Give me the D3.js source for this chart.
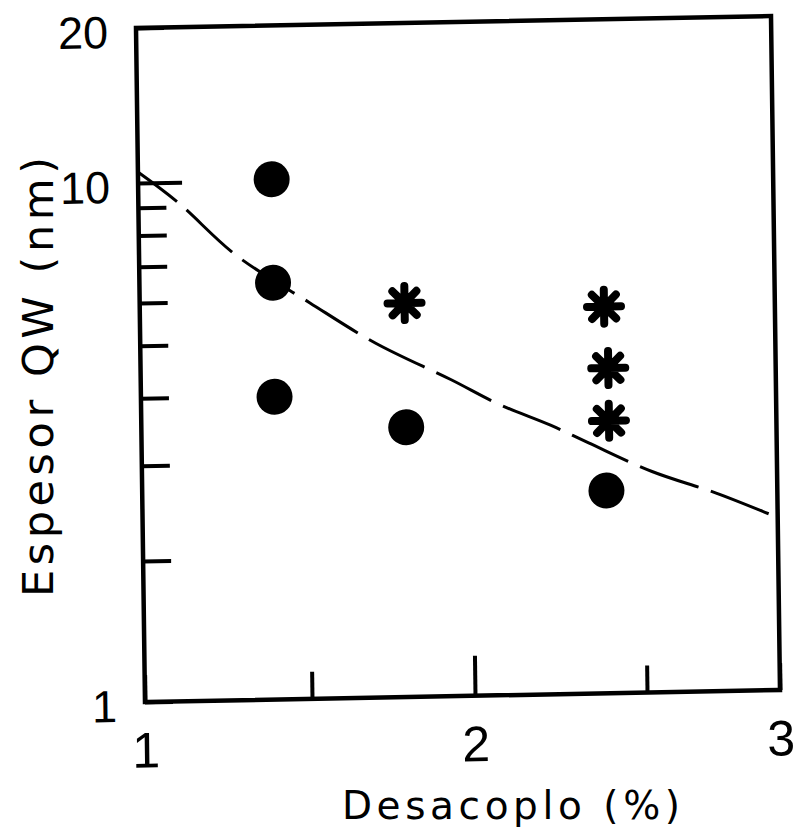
<!DOCTYPE html>
<html>
<head>
<meta charset="utf-8">
<script src="https://cdn.jsdelivr.net/npm/d3@7"></script>
<style>
  html, body { margin: 0; padding: 0; background: #fff; }
  svg { display: block; }
</style>
</head>
<body>
<svg id="chart" width="794" height="837"></svg>
<script>
// Quantum-well thickness vs. lattice mismatch
const circleX = [1.40, 1.40, 1.40, 1.80, 2.39];
const circleY = [10.05, 6.47, 3.98, 3.46, 2.60];
const starX = [1.80, 2.39, 2.40, 2.40];
const starY = [5.87, 5.69, 4.38, 3.50];
// dashed reference curve
const fitX = [1.00, 1.12, 1.29, 1.51, 1.71, 1.94, 2.08, 2.23, 2.34, 2.53, 2.77, 2.98];
const fitY = [10.5, 9.16, 7.30, 5.92, 4.96, 4.22, 3.79, 3.45, 3.19, 2.81, 2.55, 2.31];
// axes
const xTicks = [1, 1.5, 2, 2.5, 3];
const xTickLabels = ["1", "", "2", "", "3"];
const yTicks = [1, 2, 3, 4, 5, 6, 7, 8, 9, 10, 20];
const yTickLabels = ["1", "", "", "", "", "", "", "", "", "10", "20"];
const xTitle = "Desacoplo (%)";
const yTitle = "Espesor QW (nm)";

const W = 635, H = 674;
const svg = d3.select("#chart");
svg.append("rect").attr("width", 794).attr("height", 837).attr("fill", "#fff");

// plot panel, slightly sheared like the hand-drawn frame
const g = svg.append("g")
  .attr("transform", "matrix(1,-0.0189,0.01335,1,136,28)");

// axis calibration follows the drawn tick marks
const x = d3.scaleLinear().domain(xTicks).range([0, 167, 330, 502, 635]);
const y = d3.scaleLog().domain([1, 2, 10, 20]).range([H, 533, 155, 0]);

const numFont = "'Liberation Sans', Arial, sans-serif";
const txtFont = "'DejaVu Sans', sans-serif";

// y axis (ticks point inward)
const yAxis = g.append("g")
  .call(d3.axisLeft(y)
    .tickValues(yTicks)
    .tickSize(-28)
    .tickPadding(28)
    .tickFormat((d, i) => yTickLabels[i]));
yAxis.select(".domain").remove();
yAxis.selectAll(".tick line")
  .attr("stroke", "#000").attr("stroke-width", 4)
  .attr("x2", d => d === 10 ? 44 : 28);
yAxis.selectAll(".tick text")
  .attr("font-family", numFont).attr("font-size", 45)
  .attr("fill", "#000").attr("dy", "0.42em");

// x axis
const xAxis = g.append("g")
  .attr("transform", `translate(0,${H})`)
  .call(d3.axisBottom(x)
    .tickValues(xTicks)
    .tickSize(-27)
    .tickPadding(30)
    .tickFormat((d, i) => xTickLabels[i]));
xAxis.select(".domain").remove();
xAxis.selectAll(".tick line")
  .attr("stroke", "#000").attr("stroke-width", 4)
  .attr("y2", d => d === 2 ? -40 : -27);
xAxis.selectAll(".tick text")
  .attr("font-family", numFont).attr("font-size", 50).attr("fill", "#000");

// frame
g.append("rect")
  .attr("x", 0).attr("y", 0).attr("width", W).attr("height", H)
  .attr("fill", "none").attr("stroke", "#000").attr("stroke-width", 4.5);

// dashed curve
const fit = fitX.map((v, i) => [v, fitY[i]]);
g.append("path")
  .datum(fit)
  .attr("fill", "none")
  .attr("stroke", "#000")
  .attr("stroke-width", 3)
  .attr("stroke-dasharray", "62 13")
  .attr("stroke-dashoffset", 13)
  .attr("d", d3.line().x(d => x(d[0])).y(d => y(d[1])).curve(d3.curveCatmullRom));

// filled circles
g.selectAll("circle.pt")
  .data(circleX.map((v, i) => [v, circleY[i]]))
  .join("circle")
  .attr("class", "pt")
  .attr("cx", d => x(d[0]))
  .attr("cy", d => y(d[1]))
  .attr("r", 18)
  .attr("fill", "#000");

// eight-armed asterisk symbol
const asterisk8 = {
  draw(ctx, size) {
    const r = Math.sqrt(size) / 2;
    for (let i = 0; i < 4; i++) {
      const a = i * Math.PI / 4;
      const dx = r * Math.cos(a), dy = r * Math.sin(a);
      ctx.moveTo(-dx, -dy);
      ctx.lineTo(dx, dy);
    }
  }
};
g.selectAll("path.star")
  .data(starX.map((v, i) => [v, starY[i]]))
  .join("path")
  .attr("class", "star")
  .attr("transform", d => `translate(${x(d[0])},${y(d[1])})`)
  .attr("d", d3.symbol().type(asterisk8).size(34 * 34))
  .attr("fill", "none")
  .attr("stroke", "#000")
  .attr("stroke-width", 8)
  .attr("stroke-linecap", "round");

// axis titles
svg.append("text")
  .attr("transform", "translate(53,377) rotate(-90)")
  .attr("text-anchor", "middle")
  .attr("font-family", txtFont)
  .attr("font-size", 43)
  .attr("textLength", 440)
  .attr("lengthAdjust", "spacing")
  .attr("fill", "#000")
  .text(yTitle);

svg.append("text")
  .attr("x", 511).attr("y", 819)
  .attr("text-anchor", "middle")
  .attr("font-family", txtFont)
  .attr("font-size", 39)
  .attr("textLength", 338)
  .attr("lengthAdjust", "spacing")
  .attr("fill", "#000")
  .text(xTitle);
</script>
</body>
</html>
